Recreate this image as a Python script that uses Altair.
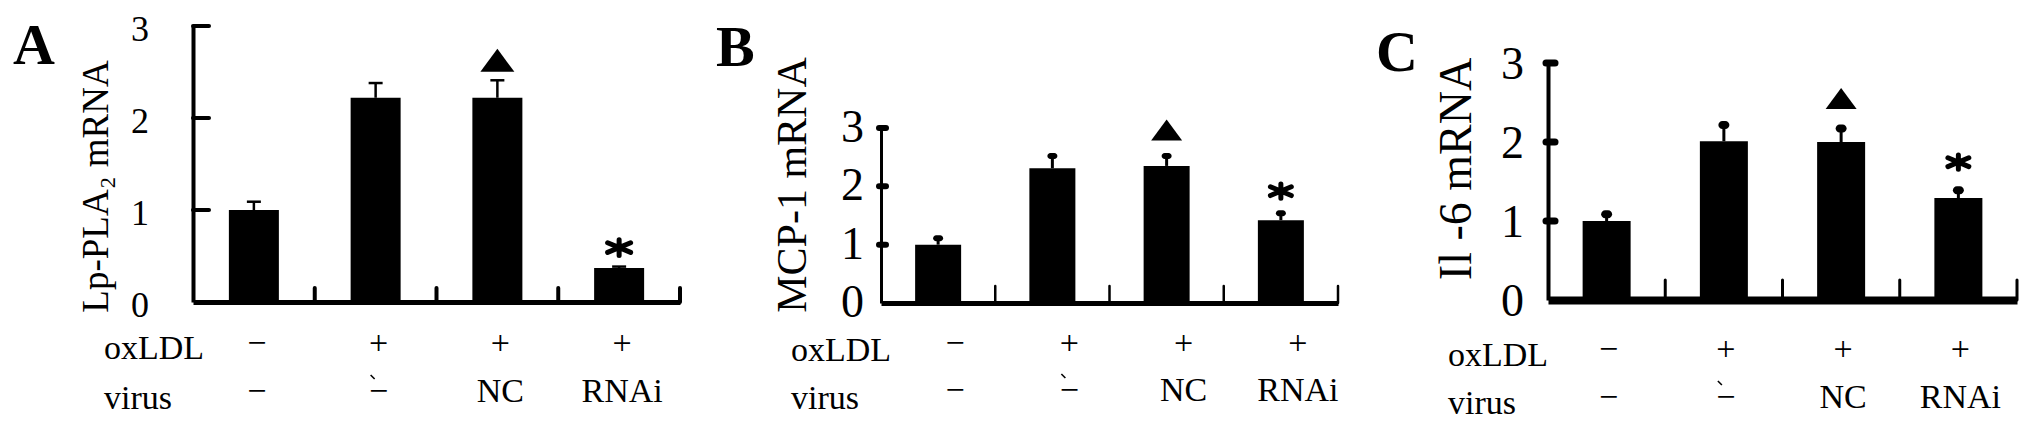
import altair as alt
import pandas as pd

# ---------------- data ----------------
groups = ["control", "oxLDL", "oxLDL+NC", "oxLDL+RNAi"]
oxldl_row = ["−", "+", "+", "+"]
virus_row = ["−", "−", "NC", "RNAi"]
virus_mark = [0, 1, 0, 0]          # stray accent stroke above the second "−"
markers = ["", "", "▲", "*"]
row_names = ["oxLDL", "virus"]
y_ticks = [0, 1, 2, 3]

panel_letters = ["A", "B", "C"]
y_titles = ["Lp-PLA₂ mRNA", "MCP-1 mRNA", "Il -6 mRNA"]

lp_pla2_mean = [1.00, 2.22, 2.22, 0.37]
lp_pla2_upper = [1.09, 2.38, 2.41, 0.385]
mcp1_mean = [1.00, 2.31, 2.35, 1.42]
mcp1_upper = [1.11, 2.52, 2.52, 1.54]
il6_mean = [1.00, 2.01, 2.00, 1.29]
il6_upper = [1.085, 2.215, 2.17, 1.39]

# ---------------- styles ----------------
FONT = "Liberation Serif"
TRI = "M0,-0.68L1,0.68L-1,0.68Z"
STAR = "M0,-0.65L0,0.65M-0.95,-0.4L0.95,0.4M-0.95,0.4L0.95,-0.4"
ACCENT = "M-1,-1L1,1"

STYLES = [
    dict(view_w=688, band_w=487, height=291, y3=15, bar=50, xaxis_w=5, yaxis_w=4,
         label_size=36, label_pad=44, label_dy=4, title_size=37, title_x=-86, title_y=175,
         ytick=(0, 16, 4), sep=(14, 4), stem=2.5, cap=(14, 2.5, 0),
         tri=(1156, -20), star=(586, -19), letter=(-180, 53),
         rows=(-89, 348, 398), signs=(3, 333, 381)),
    dict(view_w=667, band_w=457, height=292, y3=117, bar=46, xaxis_w=5, yaxis_w=3,
         label_size=46, label_pad=17, label_dy=0, title_size=42, title_x=-76, title_y=173.5,
         ytick=(-2, 5, 6), sep=(17, 2.5), stem=3, cap=(10, 6, 3),
         tri=(961, -26), star=(484, -22), letter=(-165, 55),
         rows=(-90, 350, 398), signs=(17, 333, 380)),
    dict(view_w=473, band_w=469, height=289, y3=52, bar=48, xaxis_w=8, yaxis_w=4,
         label_size=46, label_pad=24, label_dy=2, title_size=46, title_x=-78, title_y=157.5,
         ytick=(-2, 7, 7), sep=(20, 3), stem=3, cap=(11, 8, 4),
         tri=(961, -30), star=(484, -28), letter=(-172, 60),
         rows=(-100, 355, 403), signs=(2, 339, 387)),
]


def panel(i, mean, upper):
    st = STYLES[i]
    ppu = (st["height"] - st["y3"]) / 3.0
    df = pd.DataFrame({"group": groups, "mean": mean, "upper": upper,
                       "ox": oxldl_row, "virus": virus_row,
                       "accent": virus_mark, "marker": markers})
    xs = alt.Scale(domain=groups, range=[0, st["band_w"]], paddingInner=0, paddingOuter=0)
    ys = alt.Scale(domain=[0, 3], range=[st["height"], st["y3"]], nice=False, zero=True)
    X = alt.X("group:N", scale=xs, sort=groups)
    base = alt.Chart(df)

    bars = base.mark_bar(size=st["bar"], color="black").encode(
        x=alt.X("group:N", scale=xs, sort=groups,
                axis=alt.Axis(title=None, labels=False, ticks=False, grid=False,
                              domain=True, domainColor="black",
                              domainWidth=st["xaxis_w"])),
        y=alt.Y("mean:Q", scale=ys,
                axis=alt.Axis(values=y_ticks, ticks=False, tickSize=0, labels=False,
                              grid=False, domain=True, domainColor="black",
                              domainWidth=st["yaxis_w"],
                              title=y_titles[i], titleFont=FONT,
                              titleFontSize=st["title_size"], titleFontWeight="normal",
                              titleColor="black", titleAngle=270, titleAlign="center",
                              titleBaseline="alphabetic", titleX=st["title_x"],
                              titleY=st["title_y"])),
    )

    # y tick labels, placed through the y scale
    ylab = alt.Chart(pd.DataFrame({"v": y_ticks})).mark_text(
        font=FONT, fontSize=st["label_size"], align="right", baseline="middle",
        dy=st["label_dy"], color="black").encode(
        x=alt.value(-st["label_pad"]), y=alt.Y("v:Q", scale=ys),
        text=alt.Text("v:Q", format="d"))

    sep_h, sep_w = st["sep"]
    seps = base.transform_calculate(s0="0", s1=str(sep_h / ppu)).mark_rule(
        strokeWidth=sep_w, strokeCap="round", color="black").encode(
        x=alt.X("group:N", scale=xs, sort=groups, bandPosition=1),
        y=alt.Y("s0:Q", scale=ys), y2="s1:Q")

    stems = base.mark_rule(strokeWidth=st["stem"], color="black").encode(
        x=X, y=alt.Y("mean:Q", scale=ys), y2="upper:Q")

    cs, ct, cr = st["cap"]
    caps = base.mark_tick(size=cs, thickness=ct, cornerRadius=cr, color="black",
                          opacity=1).encode(
        x=X, y=alt.Y("upper:Q", scale=ys))

    tx0, tx1, tw = st["ytick"]
    yt = alt.Chart(pd.DataFrame({"v": y_ticks[1:]})).mark_rule(
        strokeWidth=tw, strokeCap="round", color="black").encode(
        x=alt.value(tx0), x2=alt.value(tx1), y=alt.Y("v:Q", scale=ys))

    tsize, tdy = st["tri"]
    tri = base.transform_filter(alt.datum.marker == "▲").mark_point(
        shape=TRI, size=tsize, filled=True, color="black", opacity=1,
        yOffset=tdy).encode(x=X, y=alt.Y("upper:Q", scale=ys))

    ssize, sdy = st["star"]
    star = base.transform_filter(alt.datum.marker == "*").mark_point(
        shape=STAR, size=ssize, filled=False, strokeWidth=5, strokeCap="round",
        color="black", opacity=1, yOffset=sdy).encode(
        x=X, y=alt.Y("upper:Q", scale=ys))

    lx, ly = st["letter"]
    letter = alt.Chart(pd.DataFrame({"t": [panel_letters[i]]})).mark_text(
        font=FONT, fontSize=58, fontWeight="bold", align="left",
        baseline="alphabetic", color="black").encode(
        text="t:N", x=alt.value(lx), y=alt.value(ly))

    rx, ry1, ry2 = st["rows"]
    row1 = alt.Chart(pd.DataFrame({"r": [row_names[0]]})).mark_text(
        font=FONT, fontSize=34, align="left", baseline="alphabetic",
        color="black").encode(text="r:N", x=alt.value(rx), y=alt.value(ry1))
    row2 = alt.Chart(pd.DataFrame({"r": [row_names[1]]})).mark_text(
        font=FONT, fontSize=34, align="left", baseline="alphabetic",
        color="black").encode(text="r:N", x=alt.value(rx), y=alt.value(ry2))

    sdx, sy1, sy2 = st["signs"]
    s1 = base.mark_text(font=FONT, fontSize=34, baseline="middle", dx=sdx,
                        color="black").encode(x=X, y=alt.value(sy1), text="ox:N")
    s2 = base.mark_text(font=FONT, fontSize=34, baseline="middle", dx=sdx,
                        color="black").encode(x=X, y=alt.value(sy2), text="virus:N")
    acc = base.transform_filter(alt.datum.accent == 1).mark_point(
        shape=ACCENT, size=16, filled=False, strokeWidth=1.6, color="black",
        opacity=1, xOffset=sdx - 6).encode(x=X, y=alt.value(sy2 - 15))

    return alt.layer(bars, ylab, seps, stems, caps, yt, tri, star, letter,
                     row1, row2, s1, s2, acc).properties(
        width=st["view_w"], height=st["height"])


chart = alt.hconcat(
    panel(0, lp_pla2_mean, lp_pla2_upper),
    panel(1, mcp1_mean, mcp1_upper),
    panel(2, il6_mean, il6_upper),
    spacing=0, bounds="flush",
).properties(
    padding={"left": 4, "top": 2, "right": 0, "bottom": 0}
).configure_view(stroke="transparent")

chart.save("out.html", embed_options={"renderer": "svg", "actions": False})
